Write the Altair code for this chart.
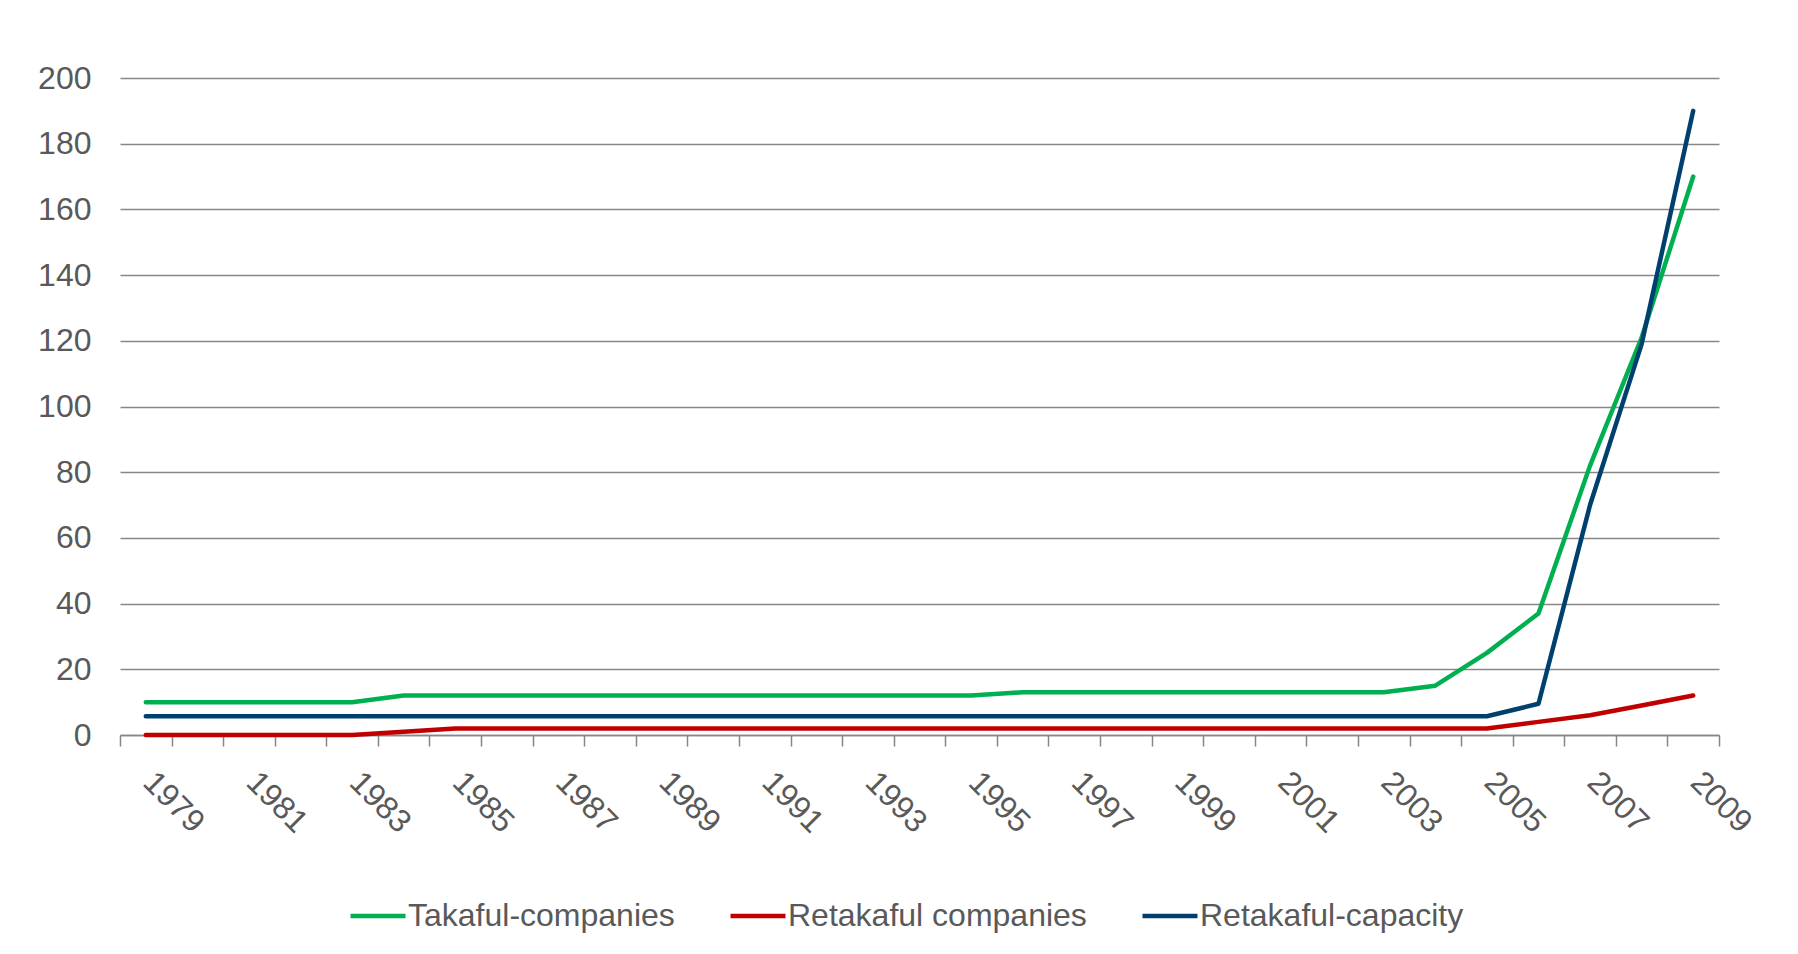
import altair as alt
import pandas as pd

years = [str(y) for y in range(1979, 2010)]
series_names = ["Takaful-companies", "Retakaful companies", "Retakaful-capacity"]
takaful_companies = [10, 10, 10, 10, 10,
                     12, 12, 12, 12, 12, 12, 12, 12, 12, 12, 12, 12,
                     13, 13, 13, 13, 13, 13, 13, 13,
                     15, 25, 37, 82, 121, 170]
retakaful_companies = [0, 0, 0, 0, 0, 1] + [2] * 21 + [4, 6, 9, 12]
retakaful_capacity = [5.7] * 27 + [9.5, 70, 119, 190]
colors = ["#00B050", "#C00000", "#00406F"]
y_ticks = [0, 20, 40, 60, 80, 100, 120, 140, 160, 180, 200]

rows = []
for name, vals in zip(series_names, [takaful_companies, retakaful_companies, retakaful_capacity]):
    for y, v in zip(years, vals):
        rows.append({"year": y, "value": v, "series": name})
df = pd.DataFrame(rows)

text_color = "#595959"
grid_color = "#878787"

chart = alt.Chart(df).mark_line(strokeWidth=4.5, strokeCap="round", strokeJoin="round").encode(
    x=alt.X(
        "year:O",
        title=None,
        sort=years,
        scale=alt.Scale(type="band", paddingInner=0, paddingOuter=0),
        axis=alt.Axis(
            tickBand="extent",
            labelAngle=45,
            labelAlign="left",
            labelBaseline="top",
            labelExpr="toNumber(datum.value) % 2 == 1 ? datum.label : ''",
            labelOverlap=False,
            labelFont="Liberation Sans",
            labelFontSize=32,
            labelColor=text_color,
            labelPadding=20,
            labelOffset=13,
            tickSize=11,
            tickColor=grid_color,
            tickWidth=1.5,
            domainColor=grid_color,
            domainWidth=1.5,
            grid=False,
        ),
    ),
    y=alt.Y(
        "value:Q",
        title=None,
        scale=alt.Scale(domain=[0, 200], nice=False),
        axis=alt.Axis(
            values=y_ticks,
            domain=False,
            ticks=False,
            tickSize=0,
            labelPadding=29,
            labelFont="Liberation Sans",
            labelFontSize=32,
            labelColor=text_color,
            grid=True,
            gridColor=grid_color,
            gridWidth=1.5,
        ),
    ),
    color=alt.Color(
        "series:N",
        scale=alt.Scale(domain=series_names, range=colors),
        sort=series_names,
        legend=alt.Legend(
            title=None,
            orient="none",
            direction="horizontal",
            legendX=228,
            legendY=808,
            symbolType="stroke",
            symbolSize=3025,
            symbolStrokeWidth=4.5,
            labelFont="Liberation Sans",
            labelFontSize=32,
            labelColor=text_color,
            labelLimit=0,
            labelOffset=0,
            columnPadding=46,
            padding=0,
        ),
    ),
).properties(
    width=1599,
    height=657,
    padding={"left": 112, "top": 70, "right": 71, "bottom": 211},
    autosize=alt.AutoSizeParams(type="none"),
).configure_view(stroke=None)

chart.save("out.html", embed_options={"renderer": "svg", "actions": False})
